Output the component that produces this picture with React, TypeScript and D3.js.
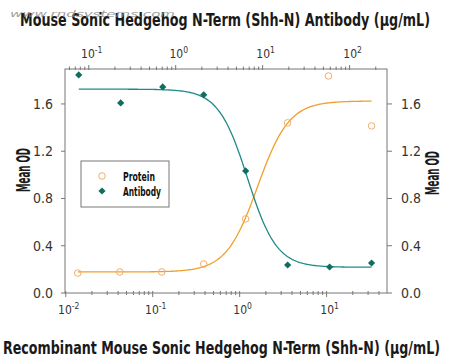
import React from "react";
import * as d3 from "d3";

const proteinConc = [0.01374, 0.0418, 0.127, 0.386, 1.17, 3.56, 10.5, 32.9];
const proteinOD = [0.169, 0.178, 0.178, 0.245, 0.627, 1.44, 1.837, 1.414];
const antibodyConc = [0.0767, 0.233, 0.709, 2.1, 6.38, 19.4, 58.9, 179];
const antibodyOD = [1.846, 1.609, 1.744, 1.677, 1.033, 0.237, 0.22, 0.254];
// 4PL fit parameters: [bottom, top, ec50, hill]
const proteinFit = [0.178, 1.625, 1.61, 2.4];
const antibodyFit = [0.218, 1.725, 6.7, 2.6];
const yTicks = [0, 0.4, 0.8, 1.2, 1.6];
const bottomTicks = [0.01, 0.1, 1, 10];
const topTicks = [0.1, 1, 10, 100];
const xTitle = "Recombinant Mouse Sonic Hedgehog N-Term (Shh-N) (μg/mL)";
const topTitle = "Mouse Sonic Hedgehog N-Term (Shh-N) Antibody (μg/mL)";
const yTitle = "Mean OD";
const legendLabels = ["Protein", "Antibody"];

const FONT = "'Liberation Sans Narrow', 'DejaVu Sans Condensed', 'Open Sans', sans-serif";
const ORANGE = "#f0a028";
const ORANGE_PT = "#f2ad6a";
const TEAL = "#1f8a88";
const TEAL_PT = "#0f6e60";
const AXIS = "#777";

const L = 65, R = 387, T = 69, B = 293;

function fourPL(x: number, p: number[], rising: boolean) {
  const [bot, top, ec, h] = p;
  const e = Math.pow(x / ec, h);
  return rising ? bot + (top - bot) * e / (1 + e) : bot + (top - bot) / (1 + e);
}

function minorTicks(domain: number[]) {
  const out: { v: number; major: boolean }[] = [];
  const lo = Math.floor(Math.log10(domain[0]));
  const hi = Math.ceil(Math.log10(domain[1]));
  for (let e = lo; e <= hi; e++) {
    for (let m = 1; m <= 9; m++) {
      const v = m * Math.pow(10, e);
      if (v >= domain[0] && v <= domain[1]) out.push({ v, major: m === 1 });
    }
  }
  return out;
}

function supLabel(v: number) {
  return String(Math.round(Math.log10(v)));
}

export default function App() {
  const xB = d3.scaleLog().domain([0.0098, 49.5]).range([L, R]);
  const xT = d3.scaleLog().domain([0.0098 * 5.44, 49.5 * 5.44]).range([L, R]);
  const y = d3.scaleLinear().domain([0, 1.9]).range([B, T - 0.5]);

  const pGrid = d3.range(0, 201).map(i => Math.pow(10, Math.log10(proteinConc[0]) + (Math.log10(proteinConc[7]) - Math.log10(proteinConc[0])) * i / 200));
  const aGrid = d3.range(0, 201).map(i => Math.pow(10, Math.log10(antibodyConc[0]) + (Math.log10(antibodyConc[7]) - Math.log10(antibodyConc[0])) * i / 200));
  const pLine = d3.line<number>().x(c => xB(c)).y(c => y(fourPL(c, proteinFit, true)))(pGrid) || "";
  const aLine = d3.line<number>().x(c => xT(c)).y(c => y(fourPL(c, antibodyFit, false)))(aGrid) || "";
  const diamond = d3.symbol().type(d3.symbolSquare).size(26)() || "";

  const tickLabel = (t: number, x: number, yy: number, key: string) => (
    <text key={key} x={x} y={yy} fontSize={12} fill="#333" textAnchor="middle">
      10<tspan dy={-5} fontSize={8.5}>{supLabel(t)}</tspan>
    </text>
  );

  return (
    <svg width={450} height={362} style={{ position: "absolute", left: 0, top: 0, background: "#fff" }} fontFamily={FONT}>
      <rect x={0} y={0} width={450} height={362} fill="#fff" />
      {/* frame */}
      <rect x={L} y={T} width={R - L} height={B - T} fill="none" stroke={AXIS} strokeWidth={1} />
      {/* bottom axis ticks */}
      {minorTicks(xB.domain()).map((t, i) => (
        <line key={"bt" + i} x1={xB(t.v)} x2={xB(t.v)} y1={B - 2} y2={B + (t.major ? 4 : 2)} stroke={AXIS} />
      ))}
      {bottomTicks.map((t, i) => tickLabel(t, xB(t) + 3, 314, "bl" + i))}
      {/* top axis ticks */}
      {minorTicks(xT.domain()).map((t, i) => (
        <line key={"tt" + i} x1={xT(t.v)} x2={xT(t.v)} y1={T + 1} y2={T - (t.major ? 4 : 2.5)} stroke={AXIS} />
      ))}
      {topTicks.map((t, i) => tickLabel(t, xT(t) + 3, 58, "tl" + i))}
      {/* y axes */}
      {yTicks.map((t, i) => (
        <g key={"y" + i}>
          <line x1={L - 4} x2={L} y1={y(t)} y2={y(t)} stroke={AXIS} />
          <text x={53} y={y(t) + 5} fontSize={14} fill="#333" textAnchor="end" textLength={20} lengthAdjust="spacingAndGlyphs">{t.toFixed(1)}</text>
          <line x1={R} x2={R + 5} y1={y(t)} y2={y(t)} stroke={AXIS} />
          <text x={401} y={y(t) + 5} fontSize={14} fill="#333" textAnchor="start" textLength={20} lengthAdjust="spacingAndGlyphs">{t.toFixed(1)}</text>
        </g>
      ))}
      {/* curves */}
      <path d={pLine} fill="none" stroke={ORANGE} strokeWidth={1.3} />
      <path d={aLine} fill="none" stroke={TEAL} strokeWidth={1.3} />
      {/* points */}
      {proteinConc.map((c, i) => (
        <circle key={"p" + i} cx={xB(c)} cy={y(proteinOD[i])} r={3.3} fill="none" stroke={ORANGE_PT} strokeWidth={1} />
      ))}
      {antibodyConc.map((c, i) => (
        <path key={"a" + i} d={diamond} transform={`translate(${xT(c)},${y(antibodyOD[i])}) rotate(45)`} fill={TEAL_PT} />
      ))}
      {/* legend */}
      <rect x={81} y={161} width={88} height={46} fill="#fff" stroke={AXIS} strokeWidth={1} />
      <circle cx={102} cy={176} r={3.3} fill="none" stroke={ORANGE_PT} strokeWidth={1} />
      <path d={diamond} transform="translate(102,191) rotate(45)" fill={TEAL_PT} />
      <text x={123} y={180.5} fontSize={12} fontWeight={600} fill="#111" textLength={32} lengthAdjust="spacingAndGlyphs">{legendLabels[0]}</text>
      <text x={123} y={196} fontSize={12} fontWeight={600} fill="#111" textLength={38} lengthAdjust="spacingAndGlyphs">{legendLabels[1]}</text>
      {/* titles */}
      <text x={20} y={26} fontSize={18} fontWeight={600} fill="#1a1a1a" textLength={410} lengthAdjust="spacingAndGlyphs">{topTitle}</text>
      <text x={10} y={17} fontSize={8} fill="#888" fontStyle="italic" opacity={0.8} textLength={165} lengthAdjust="spacingAndGlyphs">www.rndsystems.com</text>
      <text x={3} y={354} fontSize={18} fontWeight={600} fill="#1a1a1a" textLength={437} lengthAdjust="spacingAndGlyphs">{xTitle}</text>
      <text x={-170} y={30} transform="rotate(-90)" fontSize={20} fontWeight={700} fill="#1a1a1a" textAnchor="middle" textLength={44} lengthAdjust="spacingAndGlyphs">{yTitle}</text>
      <text x={-173} y={439} transform="rotate(-90)" fontSize={20} fontWeight={700} fill="#1a1a1a" textAnchor="middle" textLength={44} lengthAdjust="spacingAndGlyphs">{yTitle}</text>
    </svg>
  );
}
